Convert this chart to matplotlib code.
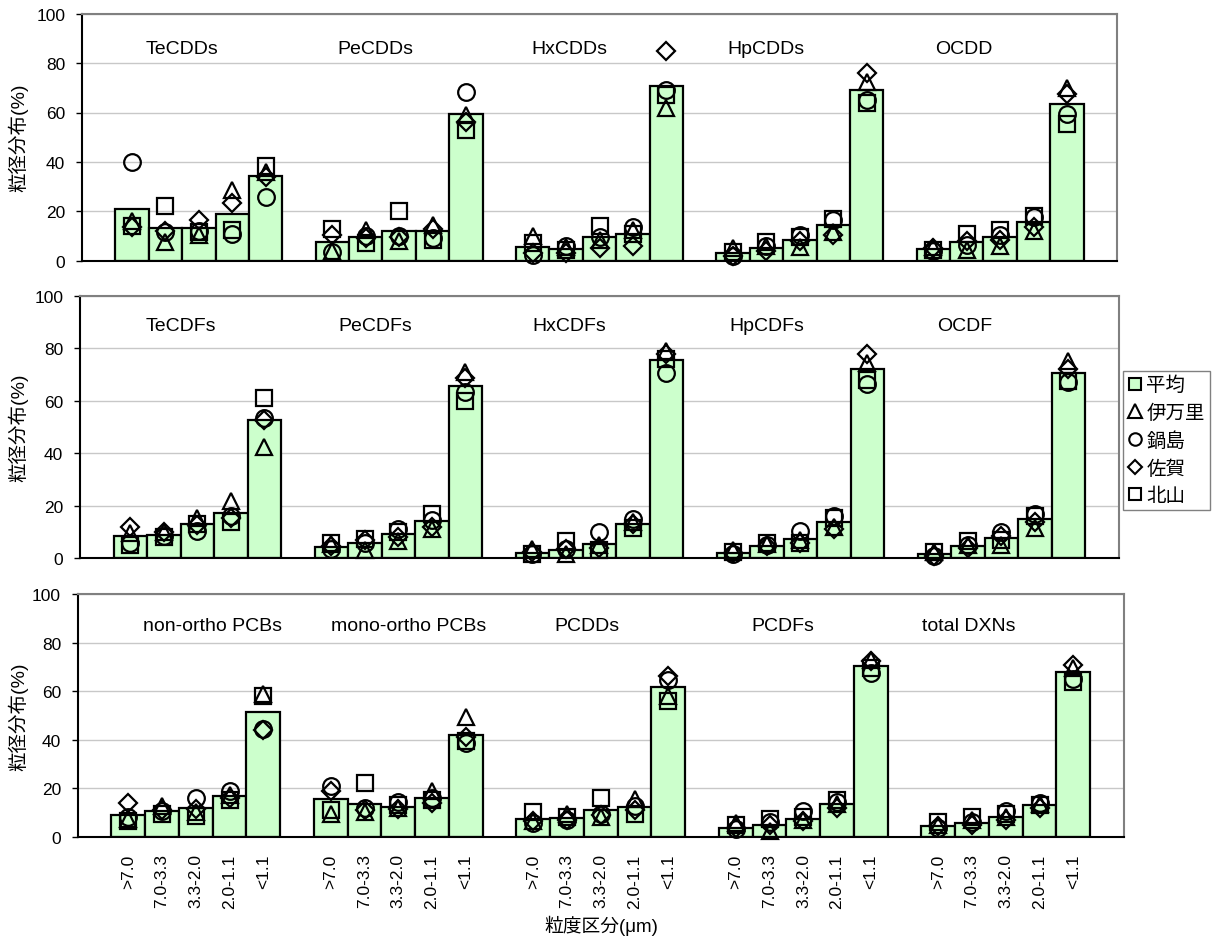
import matplotlib
matplotlib.use("Agg")
import matplotlib.pyplot as plt
from matplotlib.lines import Line2D

plt.rcParams['font.family'] = ['Liberation Sans', 'Noto Sans CJK JP', 'DejaVu Sans']

# ---------------- data ----------------
size_labels = ['>7.0', '7.0-3.3', '3.3-2.0', '2.0-1.1', '<1.1']
series_names = ['平均', '伊万里', '鍋島', '佐賀', '北山']

p1_groups = ['TeCDDs', 'PeCDDs', 'HxCDDs', 'HpCDDs', 'OCDD']
p1_mean = [20.9, 13.2, 13.2, 18.9, 34.2,
           7.6, 9.7, 12.0, 12.0, 59.3,
           5.6, 4.7, 9.5, 10.7, 70.6,
           3.2, 5.3, 8.3, 14.4, 69.3,
           4.9, 7.6, 9.5, 15.5, 63.3]
p1_imari = [16, 7.5, 10.5, 28.5, 36,
            4, 12.5, 8, 14.5, 59,
            10, 5.5, 8.5, 12.5, 62,
            5, 6, 5.5, 11.5, 72.5,
            5.5, 4.5, 6, 12, 70]
p1_nabeshima = [40, 11.5, 12, 11, 25.8,
                3.5, 10, 10, 9, 68.5,
                2.5, 6, 9.5, 13.5, 69,
                2, 6, 10.5, 16.5, 65,
                4, 6.5, 10.5, 17.5, 59.5]
p1_saga = [13.5, 12, 16.5, 23.5, 34,
           10.5, 9, 9.5, 13, 56,
           3, 3, 5, 6, 85,
           2, 4, 8, 10.5, 76,
           5, 8, 8.5, 13.5, 67.5]
p1_kitayama = [14, 22.3, 11.5, 12.5, 38.5,
               13, 7, 20, 8.5, 53,
               7, 4.5, 14, 11, 67,
               3.5, 7.5, 9.5, 17, 64,
               4.5, 11, 12.5, 18, 55.5]

p2_groups = ['TeCDFs', 'PeCDFs', 'HxCDFs', 'HpCDFs', 'OCDF']
p2_mean = [8.5, 8.8, 13.0, 17.3, 52.5,
           4.4, 5.8, 9.1, 14.4, 65.8,
           2.0, 3.3, 5.3, 13.0, 75.7,
           2.0, 4.6, 7.4, 13.9, 72.2,
           1.7, 4.8, 7.9, 15.0, 70.6]
p2_imari = [9.5, 10, 15.5, 22, 42.5,
            5.5, 3, 6.5, 11, 71,
            3.5, 1.5, 5, 14, 79,
            3, 5.5, 7, 12, 74.5,
            2.5, 5, 5, 11.5, 75]
p2_nabeshima = [6, 8.5, 10.5, 16, 53.5,
                3.5, 6, 11, 14.5, 63.5,
                1.5, 3.5, 10, 15, 70.5,
                1.5, 5, 10.5, 16, 66.5,
                1, 5, 10, 17, 67]
p2_saga = [12, 10, 12.5, 15.5, 52.5,
           4.5, 7, 8, 12, 68.5,
           2.5, 3.5, 4, 13, 78,
           2, 4.5, 6, 11, 78,
           1, 4, 8.5, 14, 72]
p2_kitayama = [5, 8, 13, 14, 61,
               6, 7.5, 10, 17, 60,
               1.5, 6.5, 3, 11.5, 76,
               2.5, 6, 6, 15.5, 68,
               2.5, 6.5, 7, 16, 67.5]

p3_groups = ['non-ortho PCBs', 'mono-ortho PCBs', 'PCDDs', 'PCDFs', 'total DXNs']
p3_mean = [9.1, 10.7, 11.8, 16.6, 51.3,
           15.4, 13.5, 12.2, 16.1, 41.8,
           7.3, 7.8, 10.9, 12.1, 61.6,
           3.4, 4.7, 7.3, 13.5, 70.6,
           4.4, 5.5, 8.3, 13.2, 67.8]
p3_imari = [7.5, 12.5, 10, 17, 59,
            9.5, 10, 12, 19, 49.5,
            6.5, 9.5, 8, 15.5, 58,
            5.5, 2.5, 7, 13.5, 73,
            5, 7, 8, 13.5, 69.5]
p3_nabeshima = [8, 10.5, 16, 19, 44.5,
                21, 12, 14.5, 16, 38.5,
                5.5, 7, 9.5, 12.5, 64.5,
                3, 6, 10.5, 14.5, 67.5,
                3.5, 6, 10.5, 14, 65]
p3_saga = [14, 11, 11.5, 16, 44,
           19, 11, 11.5, 14, 41,
           6.5, 7, 9, 11, 66.5,
           3.5, 5, 6.5, 12, 72.5,
           4.5, 5, 7, 12, 71]
p3_kitayama = [6.5, 9.5, 8.5, 15, 58,
               11, 22, 13, 15, 39.5,
               10, 8, 16, 9.5, 56,
               5, 7.5, 8, 15, 69.5,
               6, 8, 9.5, 13, 64]

panels = [
    (p1_groups, p1_mean, [p1_imari, p1_nabeshima, p1_saga, p1_kitayama]),
    (p2_groups, p2_mean, [p2_imari, p2_nabeshima, p2_saga, p2_kitayama]),
    (p3_groups, p3_mean, [p3_imari, p3_nabeshima, p3_saga, p3_kitayama]),
]

# ---------------- layout ----------------
W, H = 1213, 945
fig = plt.figure(figsize=(W / 100, H / 100), dpi=100)

# (left_px, right_px, top_px(=100), bottom_px(=0))
boxes = [(82, 1117, 14.7, 261.7),
         (80, 1118.7, 296.8, 559.3),
         (77.7, 1124, 595.3, 837.7)]
title_x = [[2.5, 8.3, 14.1, 20.0, 25.9],
           [2.5, 8.3, 14.1, 20.0, 25.9],
           [3.5, 9.3, 14.6, 20.4, 25.9]]
title_y = [86, 88.5, 87.3]

markers = ['^', 'o', 'D', 's']
msizes = [12, 12, 9.2, 11.5]
bar_fill = '#ccffcc'

# x positions for each (group, size class): one blank category between groups
xpos = [1 + 6 * g + s for g in range(5) for s in range(5)]

for pi, (groups, mean, sites) in enumerate(panels):
    l, r, t, b = boxes[pi]
    ax = fig.add_axes([l / W, 1 - b / H, (r - l) / W, (b - t) / H])
    ax.set_xlim(-0.5, 30.5)
    ax.set_ylim(0, 100)
    ax.set_axisbelow(True)
    ax.yaxis.grid(True, color='#c8c8c8', lw=1.0)
    ax.bar(xpos, mean, width=1.0, color=bar_fill, edgecolor='black',
           linewidth=1.6, zorder=2)
    for vals, m, ms in zip(sites, markers, msizes):
        ax.plot(xpos, vals, linestyle='none', marker=m, markersize=ms,
                markerfacecolor='none', markeredgecolor='black',
                markeredgewidth=1.6, zorder=3, clip_on=False)
    for gx, name in zip(title_x[pi], groups):
        ax.text(gx, title_y[pi], name, ha='center', va='center', fontsize=14)
    ax.set_yticks([0, 20, 40, 60, 80, 100])
    ax.tick_params(axis='y', length=4, width=1, pad=8, labelsize=12.5,
                   direction='out', color='black')
    for sp in ['top', 'right']:
        ax.spines[sp].set_color('#808080')
        ax.spines[sp].set_linewidth(1.5)
    for sp in ['left', 'bottom']:
        ax.spines[sp].set_color('black')
        ax.spines[sp].set_linewidth(1.5)
    ax.set_ylabel('粒径分布(%)', fontsize=14)
    ax.yaxis.set_label_coords((28 - l) / (r - l), 0.5)
    if pi < 2:
        ax.set_xticks([])
    else:
        ax.set_xticks(xpos)
        ax.set_xticklabels(size_labels * 5, rotation=90, fontsize=12.5)
        ax.tick_params(axis='x', length=0, pad=12)
        ax.set_xlabel('粒度区分(μm)', fontsize=13.5)
        ax.xaxis.set_label_coords(0.5, -(916 - b) / (b - t))

# ---------------- legend ----------------
handles = [Line2D([], [], linestyle='none', marker='s', markersize=9,
                  markerfacecolor=bar_fill, markeredgecolor='black',
                  markeredgewidth=1.5)]
for m, ms in zip(markers, [9.5, 9, 7, 9]):
    handles.append(Line2D([], [], linestyle='none', marker=m, markersize=ms,
                          markerfacecolor='none', markeredgecolor='black',
                          markeredgewidth=1.5))
fig.legend(handles, series_names, loc='upper left',
           bbox_to_anchor=(1123 / W, 1 - 372 / H), fontsize=14,
           frameon=True, fancybox=False, edgecolor='#606060',
           handlelength=0.7, handletextpad=0.25, borderpad=0.25,
           labelspacing=0.48, borderaxespad=0)

fig.savefig('out.png', dpi=100)
